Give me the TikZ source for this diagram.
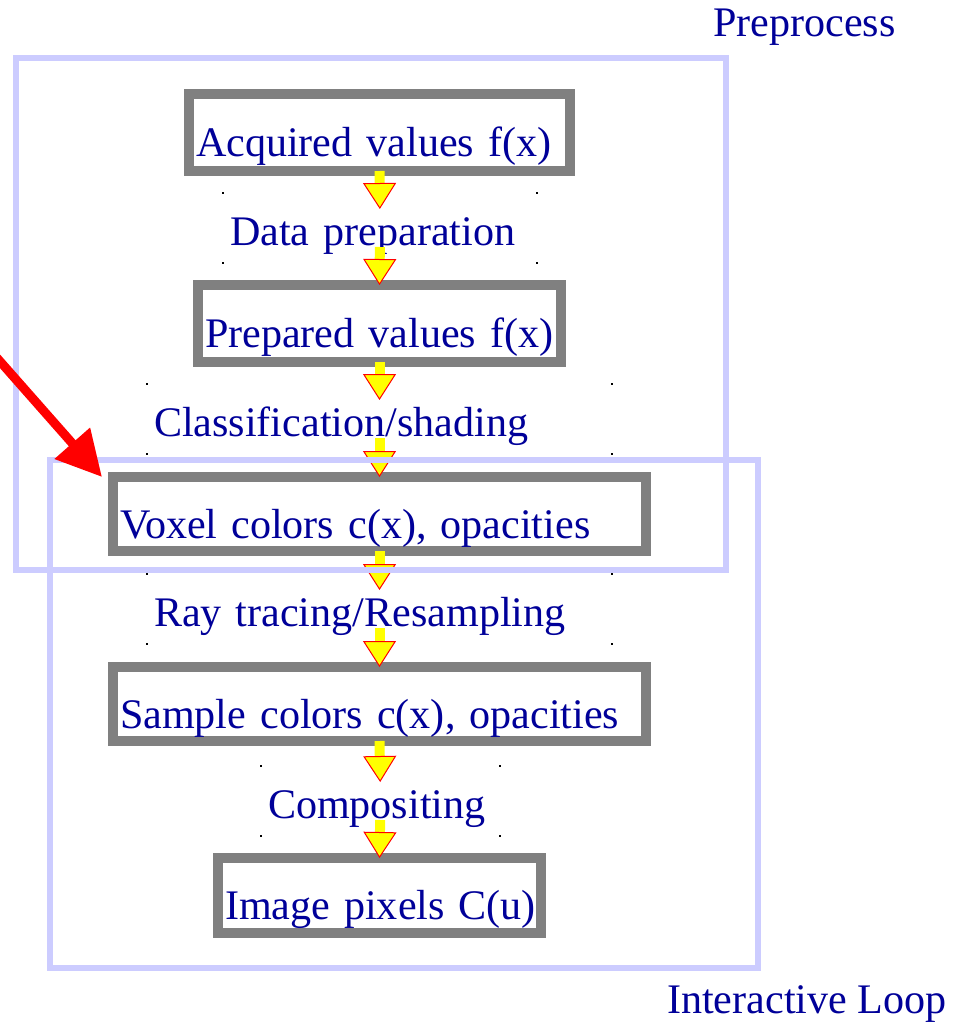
\documentclass[tikz,border=0pt]{standalone}
\usepackage{fontspec}
\setmainfont{Liberation Serif}
\usetikzlibrary{arrows.meta,calc}
\definecolor{ctext}{RGB}{0,0,153}
\definecolor{cbox}{RGB}{128,128,128}
\definecolor{cregion}{RGB}{204,204,255}
\definecolor{cflow}{RGB}{255,255,0}
\definecolor{cpoint}{RGB}{255,0,0}
% one line, left aligned, never broken
\newcommand{\oneline}[1]{\makebox[\hsize][l]{#1}}

\begin{document}
\begin{tikzpicture}[x=1pt,y=-1pt,>=Latex,
  font=\fontsize{42.1}{50}\selectfont,
  stagebox/.style={draw=cbox,line width=10pt,fill=white,outer sep=0pt,inner xsep=7pt,inner ysep=0pt,
    align=left,text=ctext,text height=50pt,text depth=2pt},
  steplabel/.style={inner xsep=7pt,inner ysep=0pt,minimum height=70pt,align=left,text=ctext,
    text height=37pt,text depth=2pt},
  flow/.style={draw=cflow,line width=10pt,
    -{Triangle[length=26pt,width=33pt,color=cpoint,fill=cflow,line width=1pt]}},
  region/.style={draw=cregion,line width=6pt},
  pointer/.style={draw=cpoint,line width=9pt,-{Triangle[length=45pt,width=45pt]}}]
\useasboundingbox (0,0) rectangle (967,1022);
% ===================== stages =====================
\node[stagebox,minimum width=381pt,minimum height=77pt,text width=367pt] (acq) at (379.5,132.5) {\oneline{Acquired values f(x)}};
\node[steplabel,minimum width=314pt,text width=300pt] (dataprep) at (380,228) {\oneline{Data preparation}};
\node[stagebox,minimum width=363pt,minimum height=77pt,text width=349pt] (prep) at (379.5,323.5) {\oneline{Prepared values f(x)}};
\node[steplabel,minimum width=465pt,text width=451pt] (classify) at (379.5,419) {\oneline{Classification/shading}};
\node[stagebox,minimum width=533pt,minimum height=74pt,text width=519pt] (voxel) at (379.5,514) {\oneline{Voxel colors c(x), opacities}};
\node[steplabel,minimum width=465pt,text width=451pt] (raytrace) at (379.5,609) {\oneline{Ray tracing/Resampling}};
\node[stagebox,minimum width=533pt,minimum height=74pt,text width=519pt] (sample) at (379.5,704) {\oneline{Sample colors c(x), opacities}};
\node[steplabel,minimum width=239pt,text width=225pt] (composite) at (380.5,801) {\oneline{Compositing}};
\node[stagebox,minimum width=323pt,minimum height=75pt,text width=309pt] (pixels) at (379.5,895.5) {\oneline{Image pixels C(u)}};
% corner handles of the step labels
\foreach \l in {dataprep,classify,raytrace,composite}{
  \foreach \c in {north west,north east,south west,south east}{
    \fill (\l.\c) ++(-1,-1) rectangle ++(2,2);}}
% ===================== flow arrows =====================
\draw[flow,shorten >=19pt] (acq.south) -- (dataprep.center);
\draw[flow,shorten <=19pt] (dataprep.center) -- (prep.north);
\draw[flow,shorten >=19pt] (prep.south) -- (classify.center);
\draw[flow,shorten <=19pt] (classify.center) -- (voxel.north);
\draw[flow,shorten >=19pt] (voxel.south) -- (raytrace.center);
\draw[flow,shorten <=19pt] (raytrace.center) -- (sample.north);
\draw[flow,shorten >=19pt] (sample.south) -- (composite.center);
\draw[flow,shorten <=19pt] (composite.center) -- (pixels.north);
% ===================== regions =====================
\draw[region] (16,58) rectangle (726,570);
\node[text=ctext,anchor=base west,inner sep=0pt] (preprocess) at (713,37) {Preprocess};
\draw[region] (50,460) rectangle (758,968);
\node[text=ctext,anchor=base west,inner sep=0pt] (loop) at (667,1013) {Interactive Loop};
% ===================== pointer =====================
\coordinate (ptrstart) at (-10,350);
\coordinate (ptrtip) at (102,477);
\draw[pointer] (ptrstart) -- (ptrtip);
\end{tikzpicture}
\end{document}
